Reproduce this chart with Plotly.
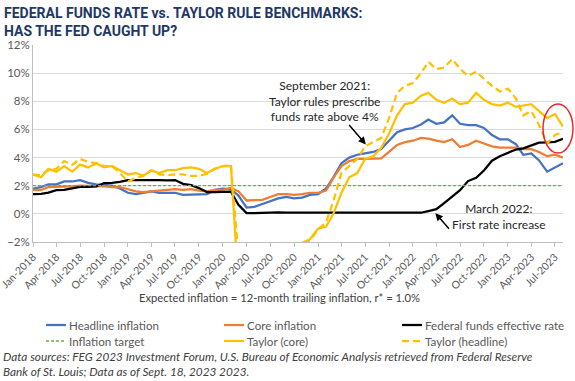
import pandas as pd
import plotly.graph_objects as go

months = pd.date_range("2018-01-01", periods=68, freq="MS")

headline = [1.8, 1.9, 2.1, 2.1, 2.3, 2.3, 2.4, 2.2, 2.1, 2.05, 2.0, 1.8,
            1.5, 1.4, 1.5, 1.6, 1.5, 1.5, 1.5, 1.35, 1.35, 1.4, 1.4, 1.7,
            1.8, 1.75, 1.3, 0.45, 0.5, 0.7, 0.9, 1.1, 1.2, 1.1, 1.15, 1.35,
            1.4, 1.8, 2.6, 3.6, 4.0, 4.2, 4.3, 4.4, 4.6, 5.2, 5.8, 6.0,
            6.1, 6.35, 6.7, 6.4, 6.5, 7.0, 6.4, 6.3, 6.3, 6.1, 5.6, 5.3,
            5.3, 4.95, 4.2, 4.3, 3.8, 3.0, 3.3, 3.6]
core = [1.7, 1.7, 1.9, 1.9, 1.9, 1.95, 2.0, 2.0, 1.95, 1.95, 1.9, 1.9,
        1.75, 1.6, 1.55, 1.6, 1.65, 1.65, 1.75, 1.7, 1.75, 1.65, 1.6, 1.7,
        1.7, 1.85, 1.6, 0.95, 0.95, 1.0, 1.2, 1.4, 1.4, 1.35, 1.4, 1.5,
        1.5, 1.65, 2.55, 3.4, 3.75, 3.9, 3.9, 3.95, 3.95, 4.4, 4.9, 5.1,
        5.2, 5.4, 5.35, 5.2, 5.1, 5.3, 4.75, 4.9, 5.2, 5.0, 4.8, 4.7,
        4.7, 4.7, 4.6, 4.6, 4.4, 4.1, 4.2, 4.0]
fed_funds = [1.41, 1.42, 1.51, 1.69, 1.70, 1.82, 1.91, 1.91, 1.95, 2.19, 2.20, 2.27,
             2.40, 2.40, 2.41, 2.42, 2.39, 2.38, 2.40, 2.13, 2.04, 1.83, 1.55, 1.55,
             1.55, 1.58, 0.65, 0.05, 0.05, 0.08, 0.09, 0.10, 0.09, 0.09, 0.09, 0.09,
             0.09, 0.08, 0.07, 0.07, 0.06, 0.08, 0.10, 0.09, 0.08, 0.08, 0.08, 0.08,
             0.08, 0.08, 0.20, 0.33, 0.77, 1.21, 1.68, 2.33, 2.56, 3.08, 3.78, 4.10,
             4.33, 4.57, 4.65, 4.83, 5.06, 5.08, 5.12, 5.33]
inflation_target = [2.0] * 68
taylor_core = [2.8, 2.6, 3.2, 3.0, 3.4, 3.0, 3.5, 3.3, 3.6, 3.3, 3.4, 3.1,
               2.8, 2.9, 2.7, 3.1, 2.9, 3.1, 3.1, 3.25, 3.3, 3.2, 2.9, 3.2,
               3.4, 3.4, -2.6, -14.0, -13.0, -10.0, -8.0, -6.5, -5.0, -3.8, -2.05, -1.8,
               -1.05, -0.9, 0.0, 1.5, 2.6, 2.9, 3.9, 4.1, 4.7, 5.7, 7.0, 7.8,
               7.9, 8.4, 8.6, 8.1, 7.9, 8.2, 7.8, 7.9, 8.6, 8.1, 7.8, 7.7,
               7.9, 7.6, 7.7, 7.8, 7.3, 6.8, 7.1, 6.2]
taylor_headline = [2.8, 2.75, 3.1, 3.2, 3.75, 3.5, 3.9, 3.7, 3.6, 3.4, 3.4, 2.9,
                   2.3, 2.55, 2.7, 3.1, 2.8, 2.75, 2.8, 2.8, 2.7, 2.7, 2.85, 3.2,
                   3.4, 3.45, -3.0, -15.0, -14.0, -11.0, -8.5, -7.0, -5.5, -4.2, -2.1, -1.9,
                   -1.1, -0.6, 0.9, 2.9, 3.4, 3.9, 4.8, 5.1, 5.4, 6.8, 8.6, 9.1,
                   9.3, 10.0, 10.8, 10.3, 10.4, 11.0, 10.3, 9.8, 10.1, 9.6, 9.1, 8.7,
                   8.9, 8.2, 7.0, 7.3, 6.3, 5.0, 5.6, 5.8]

FONT = "Lato"
GRAY = "#595959"
W, H = 575, 381
ML, MR, MT, MB = 33, 12, 45, 139
PW, PH = W - ML - MR, H - MT - MB


def px(xp):
    return (xp - ML) / PW


def py(yp):
    return (H - MB - yp) / PH


fig = go.Figure()
series = [
    ("Headline inflation", headline, "#4472C4", "solid", 2.25),
    ("Core inflation", core, "#ED7D31", "solid", 2.25),
    ("Federal funds effective rate", fed_funds, "#000000", "solid", 2.25),
    ("Inflation target", inflation_target, "#70AD47", "3px,2px", 1.3),
    ("Taylor (core)", taylor_core, "#FFC000", "solid", 2.25),
    ("Taylor (headline)", taylor_headline, "#FFC000", "7px,4px", 2.25),
]
for name, vals, color, dash, w in series:
    fig.add_trace(go.Scatter(x=months, y=vals, name=name, mode="lines",
                             line=dict(color=color, dash=dash, width=w),
                             showlegend=False))

fig.update_layout(
    width=W, height=H,
    margin=dict(l=ML, r=MR, t=MT, b=MB, autoexpand=False),
    paper_bgcolor="white", plot_bgcolor="white",
    font=dict(family=FONT, color=GRAY, size=11),
    showlegend=False,
)
fig.update_yaxes(range=[-2, 12], dtick=2, ticksuffix="%", showgrid=True,
                 gridcolor="#D9D9D9", gridwidth=1, zeroline=False,
                 showline=True, linecolor="#BFBFBF", linewidth=1,
                 automargin=False, tickfont=dict(size=11.5, color=GRAY))
fig.update_xaxes(type="date", range=["2018-01-01", "2023-08-01"],
                 tickformat="%b-%Y", dtick="M3", tick0="2018-01-01",
                 tickangle=-45, ticks="outside", ticklen=4, tickcolor="#BFBFBF",
                 showline=True, linecolor="#BFBFBF", linewidth=1, showgrid=False,
                 automargin=False, ticklabeloverflow="allow",
                 tickfont=dict(size=10.5, color=GRAY))

# Legend (drawn as short line samples with text labels, 2 rows x 3 columns)
legend_cols = [46, 224, 402]
legend_rows = [325, 341]
for k, (name, vals, color, dash, w) in enumerate(series):
    cx = legend_cols[k % 3]
    cy = legend_rows[k // 3]
    fig.add_shape(type="line", xref="paper", yref="paper",
                  x0=px(cx), x1=px(cx + 20), y0=py(cy), y1=py(cy),
                  line=dict(color=color, width=w, dash=dash))
    fig.add_annotation(xref="paper", yref="paper", x=px(cx + 21), y=py(cy),
                       xanchor="left", yanchor="middle", showarrow=False,
                       text=name, font=dict(size=11.6, color=GRAY))

# Title
fig.add_annotation(xref="paper", yref="paper", x=px(2), y=py(3),
                   xanchor="left", yanchor="top", align="left", showarrow=False,
                   text="FEDERAL FUNDS RATE vs. TAYLOR RULE BENCHMARKS:<br>HAS THE FED CAUGHT UP?",
                   font=dict(family="Roboto", size=14, color="#1F3864", weight="bold"))
# Subtitle
fig.add_annotation(xref="paper", yref="paper", x=px(279), y=py(297),
                   xanchor="center", yanchor="middle", showarrow=False,
                   text="Expected inflation = 12-month trailing inflation, r* = 1.0%",
                   font=dict(size=11.2, color="#404040"))
# Source
fig.add_annotation(xref="paper", yref="paper", x=px(1), y=py(347),
                   xanchor="left", yanchor="top", align="left", showarrow=False,
                   text="Data sources: FEG 2023 Investment Forum, U.S. Bureau of Economic Analysis retrieved from Federal Reserve<br>Bank of St. Louis; Data as of Sept. 18, 2023 2023.",
                   font=dict(size=11.8, color="#404040", style="italic"))
# Callouts
fig.add_annotation(xref="paper", yref="paper", x=px(324), y=py(101),
                   xanchor="center", yanchor="middle", showarrow=False,
                   text="September 2021:<br>Taylor rules prescribe<br>funds rate above 4%",
                   font=dict(size=12, color="#262626"))
fig.add_annotation(x="2021-07-04", y=4.93, text="", showarrow=True,
                   ax=-18, ay=-21, arrowhead=2, arrowsize=1, arrowwidth=1.5,
                   arrowcolor="#000000")
fig.add_annotation(xref="paper", yref="paper", x=px(499), y=py(216),
                   xanchor="center", yanchor="middle", showarrow=False,
                   text="March 2022:<br>First rate increase",
                   font=dict(size=12, color="#262626"))
fig.add_annotation(x="2022-03-28", y=0.05, text="", showarrow=True,
                   ax=15, ay=17, arrowhead=2, arrowsize=1, arrowwidth=1.5,
                   arrowcolor="#000000")
# Red circle highlight
fig.add_shape(type="circle", xref="paper", yref="paper",
              x0=px(543), x1=px(573), y0=py(153), y1=py(104),
              line=dict(color="#E8262A", width=1.5))

fig.write_html("out.html", config={"displayModeBar": False},
               post_script="document.body.style.margin='0px';")
